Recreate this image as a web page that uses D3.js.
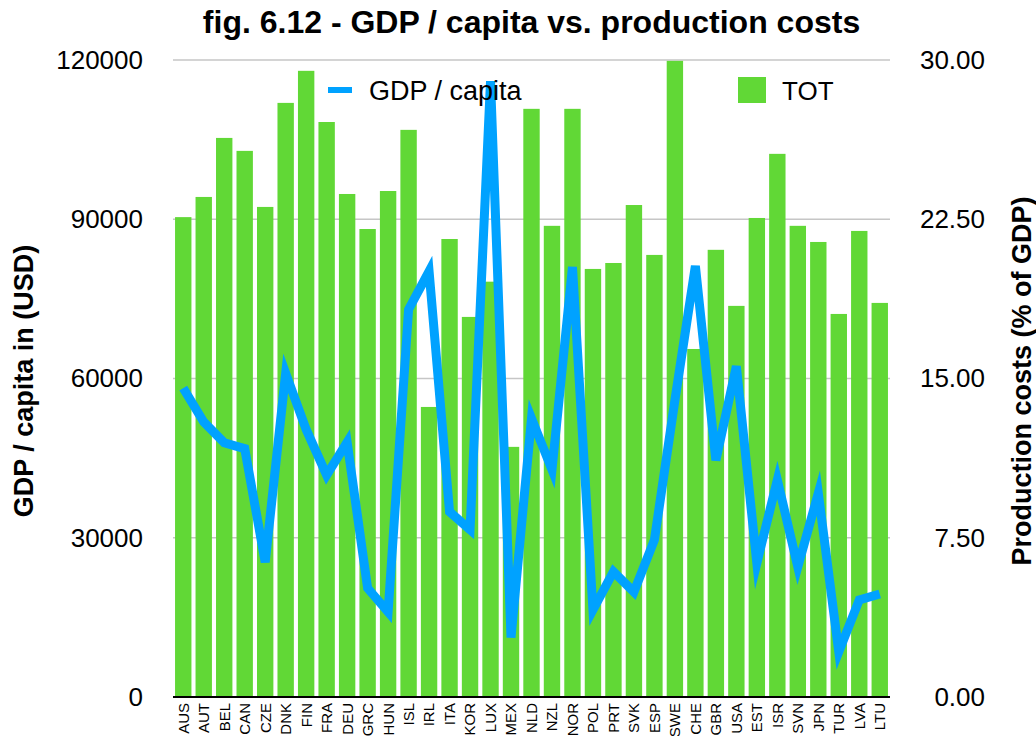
<!DOCTYPE html>
<html>
<head>
<meta charset="utf-8">
<script src="https://cdn.jsdelivr.net/npm/d3@7"></script>
<style>
  body { margin: 0; background: #fff; }
  svg { font-family: "Liberation Sans", Arial, Helvetica, sans-serif; }
</style>
</head>
<body>
<div id="chart"></div>
<script>
// Chart data
const countries = ["AUS", "AUT", "BEL", "CAN", "CZE", "DNK", "FIN", "FRA", "DEU", "GRC", "HUN", "ISL", "IRL", "ITA", "KOR", "LUX", "MEX", "NLD", "NZL", "NOR", "POL", "PRT", "SVK", "ESP", "SWE", "CHE", "GBR", "USA", "EST", "ISR", "SVN", "JPN", "TUR", "LVA", "LTU"];

// production costs, % of GDP (bars, right axis)
const totCosts = [22.6, 23.55, 26.33, 25.72, 23.08, 27.98, 29.49, 27.08, 23.69, 22.04, 23.83, 26.71, 13.66, 21.57, 17.9, 19.56, 11.78, 27.7, 22.19, 27.7, 20.16, 20.44, 23.17, 20.82, 29.96, 16.39, 21.06, 18.42, 22.56, 25.58, 22.19, 21.43, 18.04, 21.95, 18.56];

// GDP per capita in USD (line, left axis)
const gdpCapita = [58200, 51800, 47900, 46800, 25400, 61000, 50400, 41800, 48000, 20500, 16000, 73000, 80200, 34900, 31500, 116000, 11200, 52500, 42800, 81000, 16400, 23600, 19800, 29600, 55900, 81200, 44600, 62300, 25200, 40900, 24500, 38400, 8500, 18300, 19400];

const gdpTicks = [0, 30000, 60000, 90000, 120000];
const costTicks = [0, 7.5, 15, 22.5, 30];

const width = 1036, height = 736;
const plot = { left: 173, right: 890, top: 60, bottom: 697 };
const green = "#61d836", blue = "#00a2ff";

const svg = d3.select("#chart").append("svg")
  .attr("width", width)
  .attr("height", height);

const x = d3.scaleBand()
  .domain(countries)
  .range([plot.left, plot.right])
  .paddingInner(0.2)
  .paddingOuter(0.1);

const yLeft = d3.scaleLinear().domain([0, 120000]).range([plot.bottom, plot.top]);
const yRight = d3.scaleLinear().domain([0, 30]).range([plot.bottom, plot.top]);

// gridlines
svg.append("g")
  .selectAll("line")
  .data(gdpTicks.slice(1))
  .join("line")
  .attr("x1", plot.left)
  .attr("x2", plot.right)
  .attr("y1", d => yLeft(d))
  .attr("y2", d => yLeft(d))
  .attr("stroke", "#c6c6c6")
  .attr("stroke-width", 1.5);

// bars
svg.append("g")
  .selectAll("rect")
  .data(countries)
  .join("rect")
  .attr("x", d => x(d))
  .attr("y", (d, i) => yRight(totCosts[i]))
  .attr("width", x.bandwidth())
  .attr("height", (d, i) => plot.bottom - yRight(totCosts[i]))
  .attr("fill", green);

// baseline
svg.append("line")
  .attr("x1", plot.left)
  .attr("x2", plot.right)
  .attr("y1", plot.bottom)
  .attr("y2", plot.bottom)
  .attr("stroke", "#000")
  .attr("stroke-width", 2);

// GDP line
const line = d3.line()
  .x((d, i) => x(countries[i]) + x.bandwidth() / 2)
  .y(d => yLeft(d));

svg.append("path")
  .datum(gdpCapita)
  .attr("d", line)
  .attr("fill", "none")
  .attr("stroke", blue)
  .attr("stroke-width", 9)
  .attr("stroke-linejoin", "miter")
  .attr("stroke-miterlimit", 6);

// left axis
const leftAxis = svg.append("g")
  .attr("transform", `translate(${plot.left},0)`)
  .call(d3.axisLeft(yLeft).tickValues(gdpTicks).tickFormat(d3.format("d")).tickSize(0).tickPadding(30));
leftAxis.select(".domain").remove();
leftAxis.selectAll("text").attr("font-size", 26).attr("fill", "#000").attr("font-family", null);

// right axis
const rightAxis = svg.append("g")
  .attr("transform", `translate(${plot.right},0)`)
  .call(d3.axisRight(yRight).tickValues(costTicks).tickFormat(d3.format(".2f")).tickSize(0).tickPadding(95));
rightAxis.select(".domain").remove();
rightAxis.selectAll("text")
  .attr("text-anchor", "end")
  .attr("font-size", 26)
  .attr("fill", "#000")
  .attr("font-family", null);

// x labels, rotated
svg.append("g")
  .selectAll("text")
  .data(countries)
  .join("text")
  .attr("transform", d => `translate(${x(d) + x.bandwidth() / 2},703) rotate(-90)`)
  .attr("dy", "0.36em")
  .attr("text-anchor", "end")
  .attr("font-size", 15)
  .text(d => d);

// title
svg.append("text")
  .attr("x", (plot.left + plot.right) / 2)
  .attr("y", 33)
  .attr("text-anchor", "middle")
  .attr("font-size", 32)
  .attr("font-weight", "bold")
  .text("fig. 6.12 - GDP / capita vs. production costs");

// axis titles
svg.append("text")
  .attr("transform", "translate(33,381) rotate(-90)")
  .attr("text-anchor", "middle")
  .attr("font-size", 27)
  .attr("font-weight", "bold")
  .text("GDP / capita in (USD)");

svg.append("text")
  .attr("transform", "translate(1031,381) rotate(-90)")
  .attr("text-anchor", "middle")
  .attr("font-size", 27)
  .attr("font-weight", "bold")
  .text("Production costs (% of GDP)");

// legend
const legend = svg.append("g");
legend.append("line")
  .attr("x1", 328).attr("x2", 352)
  .attr("y1", 90).attr("y2", 90)
  .attr("stroke", blue)
  .attr("stroke-width", 6);
legend.append("text")
  .attr("x", 369).attr("y", 100)
  .attr("font-size", 27)
  .text("GDP / capita");
legend.append("rect")
  .attr("x", 738).attr("y", 77)
  .attr("width", 28).attr("height", 26)
  .attr("fill", green);
legend.append("text")
  .attr("x", 782).attr("y", 100)
  .attr("font-size", 26)
  .text("TOT");
</script>
</body>
</html>
